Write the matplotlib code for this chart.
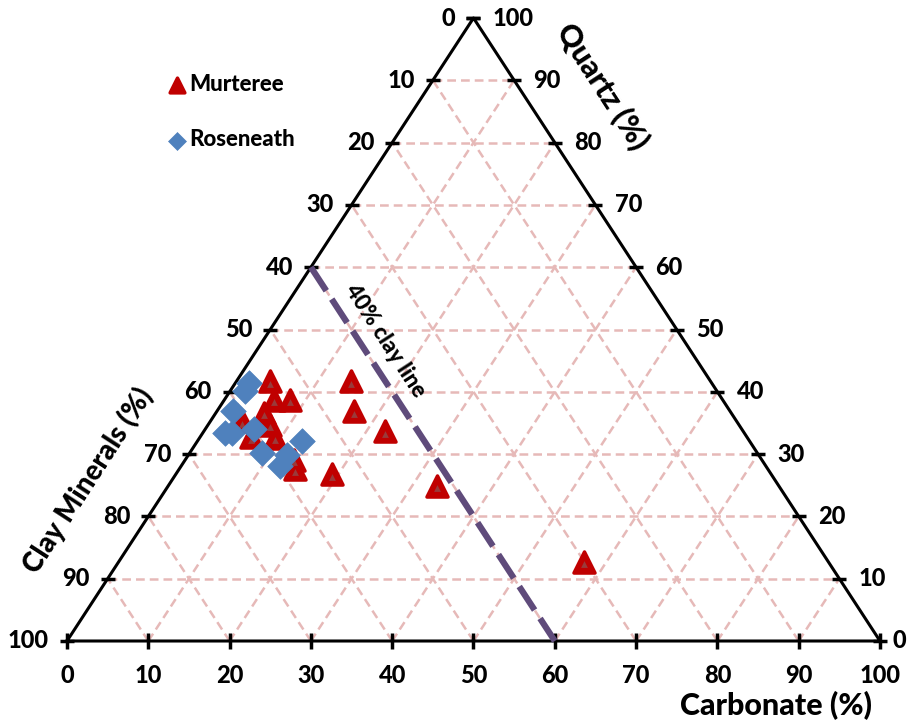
import matplotlib.pyplot as plt
import numpy as np

# ternary data, percent (clay = 100 - quartz - carbonate)
murteree_quartz = [41.7, 38.7, 38.7, 36.6, 34.7, 35.3, 32.7, 32.6, 29.1, 27.6, 26.8, 41.7, 36.9, 33.7, 24.9, 12.7]
murteree_carb = [4.1, 6.1, 8.1, 5.9, 7.6, 3.9, 6.3, 9.3, 13.4, 14.2, 19.2, 14.1, 16.8, 22.3, 33.0, 57.3]
roseneath_quartz = [41.4, 40.1, 36.9, 33.4, 33.4, 34.0, 30.2, 29.9, 28.1, 32.1]
roseneath_carb = [1.7, 1.8, 2.0, 2.7, 3.6, 6.0, 8.9, 12.1, 12.2, 12.9]
ticks = list(range(0, 101, 10))


def tern(carb, quartz):
    carb = np.asarray(carb, dtype=float)
    quartz = np.asarray(quartz, dtype=float)
    return carb + quartz / 2, quartz


plt.rcParams['font.family'] = ['Lato', 'DejaVu Sans']
W = 900

fig = plt.figure(figsize=(9.11, 7.25), dpi=100)
ax = fig.add_axes([67 / 911, 1 - 641 / 725, 813 / 911, 623 / 725])
ax.set_xlim(0, 100)
ax.set_ylim(0, 100)
ax.axis('off')

grid = dict(color='#e6b9b8', lw=1.8, ls=(0, (3.5, 2)), zorder=1)
for k in ticks[1:-1]:
    # constant quartz
    x, y = tern([0, 100 - k], [k, k])
    ax.plot(x, y, **grid)
    # constant carbonate
    x, y = tern([k, k], [0, 100 - k])
    ax.plot(x, y, **grid)
    # constant clay
    x, y = tern([100 - k, 0], [0, 100 - k])
    ax.plot(x, y, **grid)

# triangle outline
x, y = tern([0, 100, 0, 0], [0, 0, 100, 0])
ax.plot(x, y, color='black', lw=2.2, zorder=3, clip_on=False)

tk = np.array(ticks, dtype=float)
# left side: clay
lx, ly = tern(np.zeros_like(tk), 100 - tk)
ax.plot(lx, ly, ls='none', marker='_', ms=10, mew=2.5, color='black', zorder=4, clip_on=False)
for t, x, y in zip(ticks, lx, ly):
    ax.annotate(str(t), (x, y), xytext=(-13, 0), textcoords='offset points',
                ha='right', va='center', fontsize=17, fontweight=W)
# right side: quartz
rx, ry = tern(100 - tk, tk)
ax.plot(rx, ry, ls='none', marker='_', ms=10, mew=2.5, color='black', zorder=4, clip_on=False)
for t, x, y in zip(ticks, rx, ry):
    off = 9 if t == 0 else 14
    ax.annotate(str(t), (x, y), xytext=(off, 0), textcoords='offset points',
                ha='left', va='center', fontsize=17, fontweight=W)
# bottom: carbonate
bx, by = tern(tk, np.zeros_like(tk))
ax.plot(bx, by, ls='none', marker='|', ms=11, mew=2.5, color='black', zorder=4, clip_on=False)
for t, x, y in zip(ticks, bx, by):
    ax.annotate(str(t), (x, y), xytext=(0, -25), textcoords='offset points',
                ha='center', va='center', fontsize=17, fontweight=W)

# 40% clay line
x, y = tern([0, 60], [60, 0])
ax.plot(x, y, color='#5f4b7b', lw=4.5, ls=(0, (4.5, 1.6)), zorder=5, clip_on=False)
ax.text(39.1, 48.2, '40% clay line', rotation=-57, rotation_mode='anchor',
        ha='center', va='center', fontsize=16, fontweight=W)

# data
mx, my = tern(murteree_carb, murteree_quartz)
ax.scatter(mx, my, marker='^', s=230, color='#c00000', edgecolors='#c00000',
           linewidths=2.5, zorder=6, label='Murteree')
ax.scatter(mx, my - 0.4, marker='^', s=24, color='#9a3a3a', linewidths=0, zorder=6)
rx_, ry_ = tern(roseneath_carb, roseneath_quartz)
ax.scatter(rx_, ry_, marker='D', s=170, color='#4f81bd', edgecolors='#4f81bd',
           linewidths=0.5, zorder=7, label='Roseneath')

# axis titles
ax.text(65.8, 89.0, 'Quartz (%)', rotation=-57, rotation_mode='anchor',
        ha='center', va='center', fontsize=22, fontweight=W)
ax.text(2.6, 25.8, 'Clay Minerals (%)', rotation=57, rotation_mode='anchor',
        ha='center', va='center', fontsize=20, fontweight=W)
ax.text(87.2, -10.4, 'Carbonate (%)', ha='center', va='center',
        fontsize=22, fontweight=W, clip_on=False)

leg = fig.legend(loc='upper left', bbox_to_anchor=(166 / 911, 1 - 74 / 725),
                 frameon=False, fontsize=16, labelspacing=1.55,
                 handletextpad=0.05, handlelength=1.0, borderpad=0, borderaxespad=0,
                 markerscale=0.7)
for txt in leg.get_texts():
    txt.set_fontweight(W)

fig.savefig('out.png', dpi=100)
